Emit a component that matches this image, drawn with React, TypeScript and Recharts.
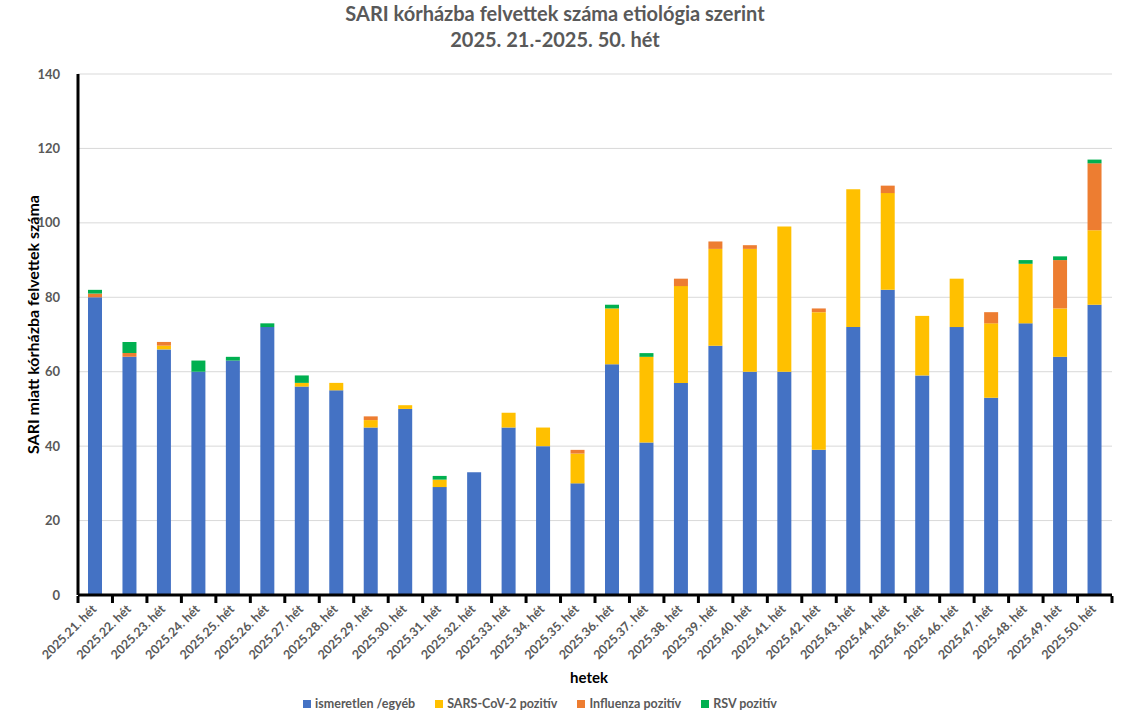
import React from "react"
import { BarChart, Bar, XAxis, YAxis, CartesianGrid, Legend } from "recharts"

// SARI admissions by etiology, weeks 21–50 of 2025

const weeks = [
  "2025.21. hét", "2025.22. hét", "2025.23. hét", "2025.24. hét", "2025.25. hét",
  "2025.26. hét", "2025.27. hét", "2025.28. hét", "2025.29. hét", "2025.30. hét",
  "2025.31. hét", "2025.32. hét", "2025.33. hét", "2025.34. hét", "2025.35. hét",
  "2025.36. hét", "2025.37. hét", "2025.38. hét", "2025.39. hét", "2025.40. hét",
  "2025.41. hét", "2025.42. hét", "2025.43. hét", "2025.44. hét", "2025.45. hét",
  "2025.46. hét", "2025.47. hét", "2025.48. hét", "2025.49. hét", "2025.50. hét",
]

const unknown   = [80, 64, 66, 60, 63, 72, 56, 55, 45, 50, 29, 33, 45, 40, 30, 62, 41, 57, 67, 60, 60, 39, 72, 82, 59, 72, 53, 73, 64, 78]
const sarsCov2  = [0, 0, 1, 0, 0, 0, 1, 2, 2, 1, 2, 0, 4, 5, 8, 15, 23, 26, 26, 33, 39, 37, 37, 26, 16, 13, 20, 16, 13, 20]
const influenza = [1, 1, 1, 0, 0, 0, 0, 0, 1, 0, 0, 0, 0, 0, 1, 0, 0, 2, 2, 1, 0, 1, 0, 2, 0, 0, 3, 0, 13, 18]
const rsv       = [1, 3, 0, 3, 1, 1, 2, 0, 0, 0, 1, 0, 0, 0, 0, 1, 1, 0, 0, 0, 0, 0, 0, 0, 0, 0, 0, 1, 1, 1]

const seriesNames = ["ismeretlen /egyéb", "SARS-CoV-2 pozitív", "Influenza pozitív", "RSV pozitív"]

const yTicks = [0, 20, 40, 60, 80, 100, 120, 140]

const data = weeks.map((week, i) => ({
  week,
  unknown: unknown[i],
  sarsCov2: sarsCov2[i],
  influenza: influenza[i],
  rsv: rsv[i],
}))

const W = 1122
const H = 718
const MARGIN = { top: 74, right: 10, left: 0, bottom: 2 }
const Y_AXIS_W = 78
const BAND = (W - MARGIN.left - MARGIN.right - Y_AXIS_W) / weeks.length

const FONT = "Lato, 'Open Sans', sans-serif"
const GRAY = "#595959"

function WeekTick({ x, y, payload, index }: any) {
  const half = BAND / 2
  return (
    <g>
      <line x1={x - half} x2={x - half} y1={y - 1} y2={y + 6} stroke="#000" strokeWidth={3} />
      {index === weeks.length - 1 && (
        <line x1={x + half} x2={x + half} y1={y - 1} y2={y + 6} stroke="#000" strokeWidth={3} />
      )}
      <text
        x={x + 2}
        y={y + 13}
        textAnchor="end"
        transform={`rotate(-45, ${x + 2}, ${y + 13})`}
        fill={GRAY}
        fontSize={12.5}
        fontWeight={700}
        fontFamily={FONT}
      >
        {payload.value}
      </text>
    </g>
  )
}

function LegendContent({ payload }: any) {
  const items = [...(payload || [])].sort(
    (a: any, b: any) => seriesNames.indexOf(a.value) - seriesNames.indexOf(b.value)
  )
  return (
    <div style={{ display: "flex", justifyContent: "center", gap: 20, fontFamily: FONT, marginLeft: -32 }}>
      {items.map((p: any) => (
        <div key={p.value} style={{ display: "flex", alignItems: "center", gap: 4 }}>
          <span style={{ width: 8, height: 8, background: p.color, display: "inline-block" }} />
          <span style={{ color: GRAY, fontSize: 12.5, fontWeight: 700 }}>{p.value}</span>
        </div>
      ))}
    </div>
  )
}

export default function App() {
  return (
    <div style={{ position: "absolute", left: 0, top: 0, width: W, height: H, background: "#fff" }}>
      <div
        style={{
          position: "absolute",
          top: 0,
          left: 0,
          width: W - 12,
          textAlign: "center",
          fontFamily: FONT,
          fontWeight: 700,
          fontSize: 20,
          lineHeight: "26px",
          color: GRAY,
        }}
      >
        SARI kórházba felvettek száma etiológia szerint
        <br />
        2025. 21.-2025. 50. hét
      </div>
      <BarChart width={W} height={H} data={data} margin={MARGIN} barSize={14}>
        <CartesianGrid vertical={false} stroke="#d9d9d9" strokeWidth={1} />
        <XAxis
          dataKey="week"
          interval={0}
          height={101}
          axisLine={{ stroke: "#000", strokeWidth: 3 }}
          tickLine={false}
          tickSize={0}
          tick={<WeekTick />}
          label={{
            content: ({ viewBox }: any) => (
              <text
                x={viewBox.x + viewBox.width / 2 - 6}
                y={viewBox.y + 88}
                textAnchor="middle"
                fill="#000"
                fontSize={15}
                fontWeight={700}
                fontFamily={FONT}
              >
                hetek
              </text>
            ),
          }}
        />
        <YAxis
          width={Y_AXIS_W}
          domain={[0, 140]}
          ticks={yTicks}
          interval={0}
          axisLine={{ stroke: "#000", strokeWidth: 3 }}
          tickLine={false}
          tickMargin={12}
          tick={{ fill: GRAY, fontSize: 13, fontWeight: 700, fontFamily: FONT }}
          label={{
            content: ({ viewBox }: any) => {
              const cx = 35
              const cy = viewBox.y + viewBox.height / 2 - 10
              return (
                <text
                  x={cx}
                  y={cy}
                  textAnchor="middle"
                  dominantBaseline="middle"
                  transform={`rotate(-90, ${cx}, ${cy})`}
                  fill="#000"
                  fontSize={16}
                  fontWeight={700}
                  fontFamily={FONT}
                >
                  SARI miatt kórházba felvettek száma
                </text>
              )
            },
          }}
        />
        <Legend verticalAlign="bottom" height={20} itemSorter={null as any} content={<LegendContent />} />
        <Bar dataKey="unknown" name={seriesNames[0]} stackId="a" fill="#4472C4" isAnimationActive={false} />
        <Bar dataKey="sarsCov2" name={seriesNames[1]} stackId="a" fill="#FFC000" isAnimationActive={false} />
        <Bar dataKey="influenza" name={seriesNames[2]} stackId="a" fill="#ED7D31" isAnimationActive={false} />
        <Bar dataKey="rsv" name={seriesNames[3]} stackId="a" fill="#00B050" isAnimationActive={false} />
      </BarChart>
    </div>
  )
}
